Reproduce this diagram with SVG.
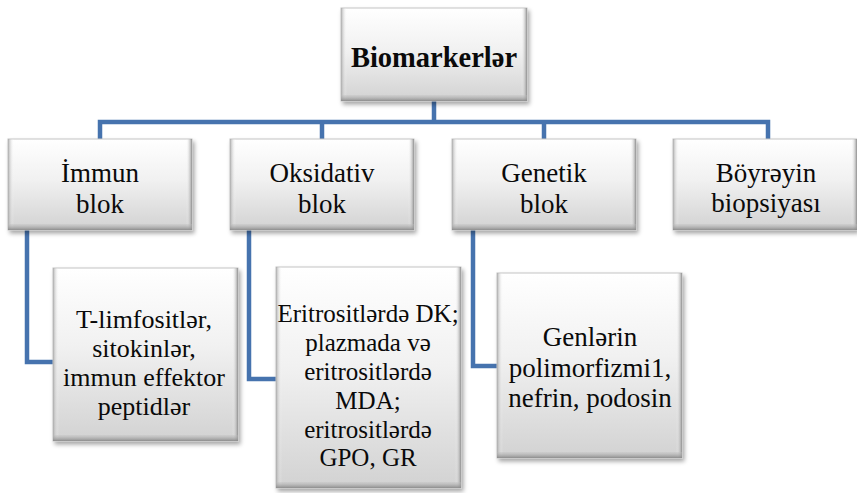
<svg xmlns="http://www.w3.org/2000/svg" width="857" height="493" viewBox="0 0 857 493">
<style>
.conn{fill:none;stroke:#4673ae;stroke-width:4.5;stroke-linejoin:miter;stroke-linecap:butt}
.box{fill:url(#face);stroke:#c4c4c4;stroke-width:1;filter:url(#sh)}
.lb{fill:url(#lband)}
.rb{fill:url(#rband)}
.bb{fill:url(#bband)}
</style>
<defs>
<linearGradient id="face" x1="0" y1="0" x2="0" y2="1">
<stop offset="0" stop-color="#ffffff"/>
<stop offset="0.45" stop-color="#f1f1f1"/>
<stop offset="1" stop-color="#d2d2d2"/>
</linearGradient>
<linearGradient id="lband" x1="0" y1="0" x2="1" y2="0">
<stop offset="0" stop-color="#a8a8a8" stop-opacity="0.9"/>
<stop offset="1" stop-color="#ffffff" stop-opacity="0"/>
</linearGradient>
<linearGradient id="rband" x1="1" y1="0" x2="0" y2="0">
<stop offset="0" stop-color="#8e8e8e" stop-opacity="0.95"/>
<stop offset="1" stop-color="#ffffff" stop-opacity="0"/>
</linearGradient>
<linearGradient id="bband" x1="0" y1="1" x2="0" y2="0">
<stop offset="0" stop-color="#8a8a8a" stop-opacity="0.95"/>
<stop offset="1" stop-color="#bdbdbd" stop-opacity="0.3"/>
</linearGradient>
<filter id="sh" x="-10%" y="-10%" width="125%" height="125%">
<feDropShadow dx="2" dy="3" stdDeviation="2.2" flood-color="#000000" flood-opacity="0.35"/>
</filter>
</defs>

<g id="connectors">
<path class="conn" d="M434,101 V122"/>
<path class="conn" d="M100,139 V122 H768 V139"/>
<path class="conn" d="M322,122 V139"/>
<path class="conn" d="M544,122 V139"/>
<path class="conn" d="M27,230 V362 H53"/>
<path class="conn" d="M249,230 V379 H276"/>
<path class="conn" d="M473,230 V366 H497"/>
</g>

<g id="node-biomarkerler">
<rect class="box" x="341" y="8" width="186" height="93"/>
<rect class="lb" x="341" y="8" width="6" height="93"/>
<rect class="rb" x="521" y="8" width="6" height="93"/>
<rect class="bb" x="341" y="95" width="186" height="6"/>
<text font-family="Liberation Serif" font-size="28.5" font-weight="bold" text-anchor="middle" fill="#0a0a0a" x="434" y="67">Biomarkerlər</text>
</g>

<g id="node-immun">
<rect class="box" x="8" y="139" width="184" height="91"/>
<rect class="lb" x="8" y="139" width="6" height="91"/>
<rect class="rb" x="186" y="139" width="6" height="91"/>
<rect class="bb" x="8" y="224" width="184" height="6"/>
<text font-family="Liberation Serif" font-size="27" text-anchor="middle" fill="#0a0a0a" x="100" y="182">İmmun</text>
<text font-family="Liberation Serif" font-size="27" text-anchor="middle" fill="#0a0a0a" x="100" y="213">blok</text>
</g>

<g id="node-oksidativ">
<rect class="box" x="230" y="139" width="184" height="91"/>
<rect class="lb" x="230" y="139" width="6" height="91"/>
<rect class="rb" x="408" y="139" width="6" height="91"/>
<rect class="bb" x="230" y="224" width="184" height="6"/>
<text font-family="Liberation Serif" font-size="27" text-anchor="middle" fill="#0a0a0a" x="322" y="182">Oksidativ</text>
<text font-family="Liberation Serif" font-size="27" text-anchor="middle" fill="#0a0a0a" x="322" y="213">blok</text>
</g>

<g id="node-genetik">
<rect class="box" x="452" y="139" width="184" height="91"/>
<rect class="lb" x="452" y="139" width="6" height="91"/>
<rect class="rb" x="630" y="139" width="6" height="91"/>
<rect class="bb" x="452" y="224" width="184" height="6"/>
<text font-family="Liberation Serif" font-size="27" text-anchor="middle" fill="#0a0a0a" x="544" y="182">Genetik</text>
<text font-family="Liberation Serif" font-size="27" text-anchor="middle" fill="#0a0a0a" x="544" y="213">blok</text>
</g>

<g id="node-boyreyin">
<rect class="box" x="673" y="139" width="184" height="91"/>
<rect class="lb" x="673" y="139" width="6" height="91"/>
<rect class="rb" x="851" y="139" width="6" height="91"/>
<rect class="bb" x="673" y="224" width="184" height="6"/>
<text font-family="Liberation Serif" font-size="27" text-anchor="middle" fill="#0a0a0a" x="766" y="182">Böyrəyin</text>
<text font-family="Liberation Serif" font-size="27" text-anchor="middle" fill="#0a0a0a" x="766" y="212">biopsiyası</text>
</g>

<g id="node-immun-leaf">
<rect class="box" x="53" y="268" width="185" height="173"/>
<rect class="lb" x="53" y="268" width="6" height="173"/>
<rect class="rb" x="232" y="268" width="6" height="173"/>
<rect class="bb" x="53" y="435" width="185" height="6"/>
<text font-family="Liberation Serif" font-size="26" text-anchor="middle" fill="#0a0a0a" x="144" y="328">T-limfositlər,</text>
<text font-family="Liberation Serif" font-size="26" text-anchor="middle" fill="#0a0a0a" x="144" y="357">sitokinlər,</text>
<text font-family="Liberation Serif" font-size="26" text-anchor="middle" fill="#0a0a0a" x="144" y="386">immun effektor</text>
<text font-family="Liberation Serif" font-size="26" text-anchor="middle" fill="#0a0a0a" x="144" y="415">peptidlər</text>
</g>

<g id="node-oksidativ-leaf">
<rect class="box" x="276" y="267" width="185" height="221"/>
<rect class="lb" x="276" y="267" width="6" height="221"/>
<rect class="rb" x="455" y="267" width="6" height="221"/>
<rect class="bb" x="276" y="482" width="185" height="6"/>
<text font-family="Liberation Serif" font-size="25" text-anchor="middle" fill="#0a0a0a" x="368" y="322">Eritrositlərdə DK;</text>
<text font-family="Liberation Serif" font-size="25" text-anchor="middle" fill="#0a0a0a" x="368" y="351">plazmada və</text>
<text font-family="Liberation Serif" font-size="25" text-anchor="middle" fill="#0a0a0a" x="368" y="380">eritrositlərdə</text>
<text font-family="Liberation Serif" font-size="25" text-anchor="middle" fill="#0a0a0a" x="368" y="409">MDA;</text>
<text font-family="Liberation Serif" font-size="25" text-anchor="middle" fill="#0a0a0a" x="368" y="438">eritrositlərdə</text>
<text font-family="Liberation Serif" font-size="25" text-anchor="middle" fill="#0a0a0a" x="368" y="466">GPO, GR</text>
</g>

<g id="node-genetik-leaf">
<rect class="box" x="497" y="273" width="185" height="185"/>
<rect class="lb" x="497" y="273" width="6" height="185"/>
<rect class="rb" x="676" y="273" width="6" height="185"/>
<rect class="bb" x="497" y="452" width="185" height="6"/>
<text font-family="Liberation Serif" font-size="27" text-anchor="middle" fill="#0a0a0a" x="590" y="346">Genlərin</text>
<text font-family="Liberation Serif" font-size="27" text-anchor="middle" fill="#0a0a0a" x="590" y="377">polimorfizmi1,</text>
<text font-family="Liberation Serif" font-size="27" text-anchor="middle" fill="#0a0a0a" x="590" y="407">nefrin, podosin</text>
</g>
</svg>
